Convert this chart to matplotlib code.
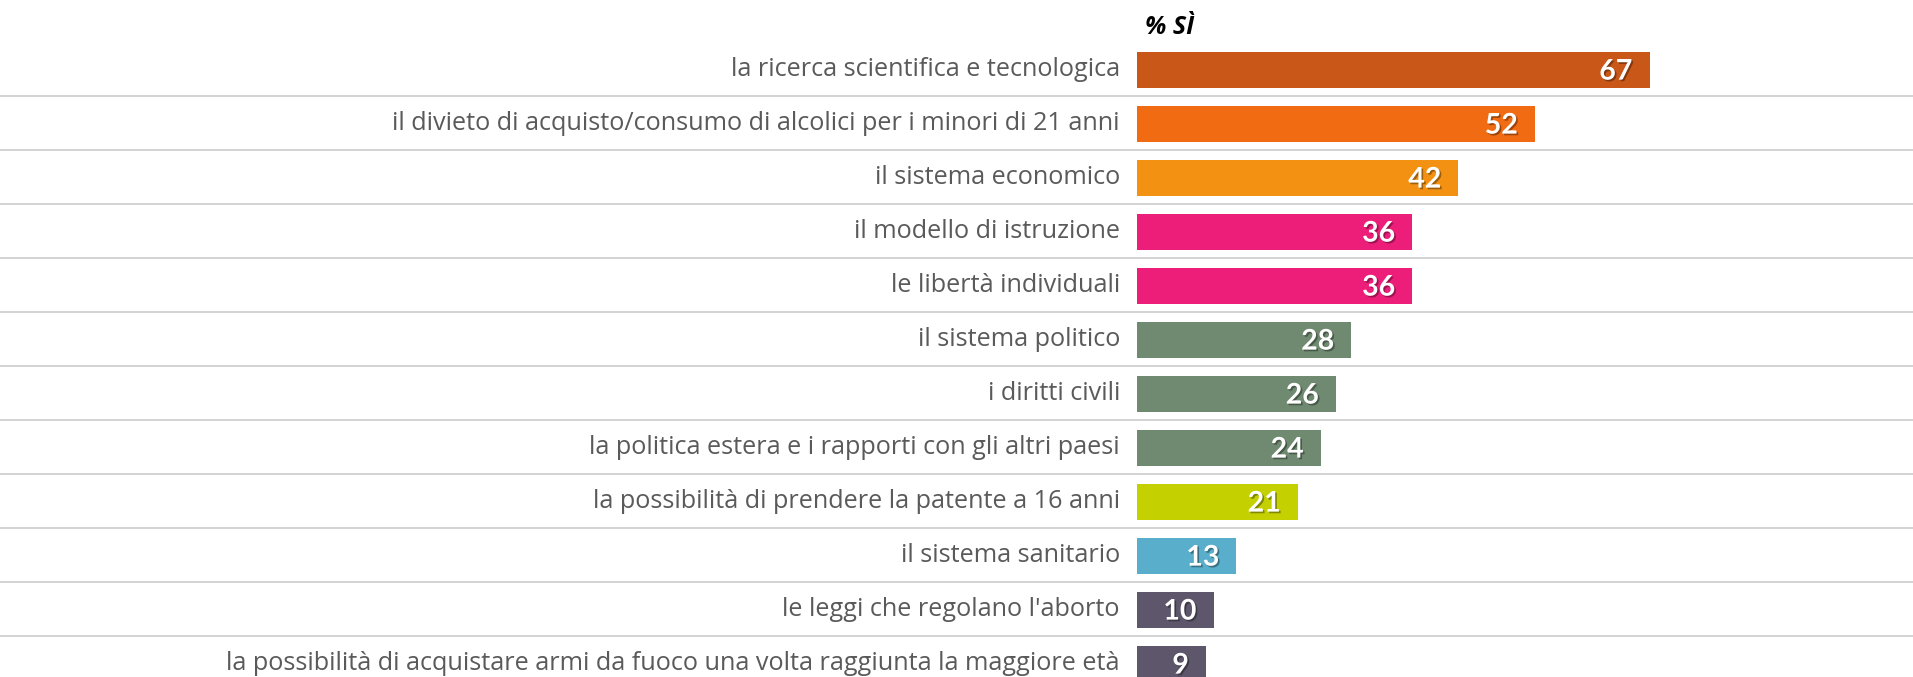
import numpy as np
import matplotlib
matplotlib.use("Agg")
import matplotlib.pyplot as plt
import matplotlib.patheffects as pe

# Data
categories = [
    "la ricerca scientifica e tecnologica",
    "il divieto di acquisto/consumo di alcolici per i minori di 21 anni",
    "il sistema economico",
    "il modello di istruzione",
    "le libertà individuali",
    "il sistema politico",
    "i diritti civili",
    "la politica estera e i rapporti con gli altri paesi",
    "la possibilità di prendere la patente a 16 anni",
    "il sistema sanitario",
    "le leggi che regolano l'aborto",
    "la possibilità di acquistare armi da fuoco una volta raggiunta la maggiore età",
]
values = [67, 52, 42, 36, 36, 28, 26, 24, 21, 13, 10, 9]
bar_colors = ["#C85718", "#F06B12", "#F39212", "#ED1E79", "#ED1E79",
              "#6F8A70", "#6F8A70", "#6F8A70", "#C5D000", "#58AECB",
              "#5E566B", "#5E566B"]
title = "% SÌ"

W, H, DPI = 1913, 677, 100
fig = plt.figure(figsize=(W / DPI, H / DPI), dpi=DPI)
ax = fig.add_axes([0, 0, 1, 1])

# pixel geometry: bars start at x=1137 px, 7.65 px per unit, rows 54 px apart
x0_px, px_per_unit = 1137, 7.65
row_px, first_px = 54, 70
ax.set_xlim(-x0_px / px_per_unit, (W - x0_px) / px_per_unit)
ax.set_ylim((H - first_px) / row_px, -first_px / row_px)

y = np.arange(len(categories))
ax.barh(y, values, height=36 / row_px, color=bar_colors, zorder=2)

# row separators across the full width
for i in range(len(categories) - 1):
    ax.axhline(i + 0.48, color="#C8C8C8", lw=1.1, zorder=1)

shadow = [pe.withSimplePatchShadow(offset=(1.2, -1.2), shadow_rgbFace="black", alpha=0.35)]
for yi, v, lab in zip(y, values, categories):
    ax.text(-17 / px_per_unit, yi, lab, ha="right", va="center",
            fontsize=18.2, family="Open Sans", color="#5A5A5A")
    ax.text(v - 17 / px_per_unit, yi + 0.03, str(v), ha="right", va="center",
            fontsize=20.5, family="Lato", fontweight="bold", color="white",
            path_effects=shadow, zorder=3)

ax.text(8 / px_per_unit, -0.67, title, ha="left", va="baseline", fontsize=18,
        family="Open Sans", fontweight="bold", fontstyle="italic", color="black")

ax.axis("off")
fig.savefig("out.png", dpi=DPI)
